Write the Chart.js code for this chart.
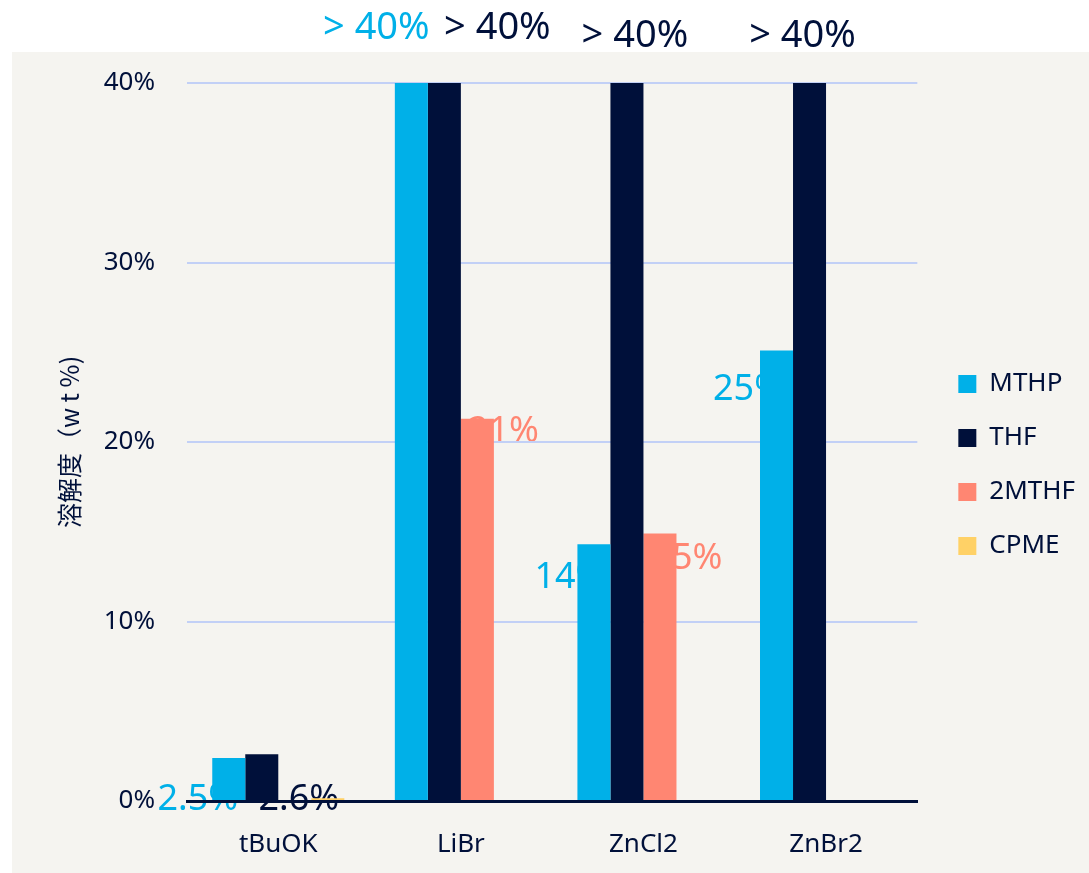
<!DOCTYPE html>
<html>
<head>
<meta charset="utf-8">
<script src="https://cdn.jsdelivr.net/npm/chart.js@4/dist/chart.umd.min.js"></script>
<style>
  html, body { margin: 0; padding: 0; background: #ffffff; }
  #wrap { width: 1089px; height: 873px; position: relative; }
</style>
</head>
<body>
<div id="wrap"><canvas id="c" width="1089" height="873"></canvas></div>
<script>
// ---- data ----
const categories = ['tBuOK', 'LiBr', 'ZnCl2', 'ZnBr2'];
const seriesNames = ['MTHP', 'THF', '2MTHF', 'CPME'];
const mthpValues  = [2.4, 40, 14.3, 25.1];
const thfValues   = [2.6, 40, 40, 40];
const mthf2Values = [null, 21.3, 14.9, null];
const cpmeValues  = [0.15, null, null, null];
const mthpLabels  = ['2.5%', '> 40%', '14%', '25%'];
const thfLabels   = ['2.6%', '> 40%', '> 40%', '> 40%'];
const mthf2Labels = [null, '21%', '15%', null];
const cpmeLabels  = [null, null, null, null];
const yTicks = [0, 10, 20, 30, 40];
const yTitle = '溶解度（w t %)';

// ---- styles ----
const NAVY = '#00103a';
const COLORS = ['#00b0e8', NAVY, '#ff8672', '#ffd166'];
const FONT = "'Noto Sans', 'Noto Sans CJK JP', sans-serif";
// label offsets relative to each bar's top-centre (dx, dy)
const labelOffsets = [
  [[-31, 42], [-35, -55], [-24, 33], [-28, 39]],
  [[37, 45], [53, -55], [8, -47], [-7, -47]],
  [[0, 0], [26, 13], [27, 25], [0, 0]],
  [[0, 0], [0, 0], [0, 0], [0, 0]]
];

const allValues = [mthpValues, thfValues, mthf2Values, cpmeValues];
const allLabels = [mthpLabels, thfLabels, mthf2Labels, cpmeLabels];

const bgPlugin = {
  id: 'bgAndLabels',
  beforeDraw(chart) {
    const ctx = chart.ctx;
    ctx.save();
    ctx.fillStyle = '#ffffff';
    ctx.fillRect(0, 0, chart.width, chart.height);
    ctx.fillStyle = '#f5f4f0';
    ctx.fillRect(12, 52, chart.width - 12, chart.height - 52);
    // value labels (drawn beneath bars and axes)
    ctx.textAlign = 'center';
    ctx.textBaseline = 'middle';
    chart.data.datasets.forEach((ds, di) => {
      const meta = chart.getDatasetMeta(di);
      meta.data.forEach((bar, i) => {
        const txt = allLabels[di][i];
        if (!txt) return;
        const off = labelOffsets[di][i];
        const big = txt.startsWith('>');
        ctx.font = (big ? '38px ' : '36px ') + FONT;
        ctx.fillStyle = COLORS[di];
        ctx.fillText(txt, bar.x + off[0], bar.y + off[1]);
      });
    });
    ctx.restore();
  },
  afterLayout(chart) {
    const l = chart.legend;
    if (l) { l.left += 13; l.right += 13; l.top -= 13; l.bottom -= 13; }
  }
};

new Chart(document.getElementById('c'), {
  type: 'bar',
  data: {
    labels: categories,
    datasets: seriesNames.map((name, i) => ({
      label: name,
      data: allValues[i],
      backgroundColor: COLORS[i],
      borderWidth: 0,
      categoryPercentage: 0.7233,
      barPercentage: 1.0
    }))
  },
  options: {
    responsive: false,
    animation: false,
    devicePixelRatio: 1,
    layout: { padding: { top: 83, bottom: 0, left: 0, right: 17 } },
    plugins: {
      legend: {
        position: 'right',
        labels: {
          boxWidth: 18,
          boxHeight: 18,
          padding: 28,
          color: NAVY,
          font: { family: FONT, size: 26 }
        }
      },
      tooltip: { enabled: false }
    },
    scales: {
      x: {
        grid: { display: false, drawTicks: false },
        border: { display: true, color: NAVY, width: 3 },
        ticks: { color: NAVY, padding: 28, font: { family: FONT, size: 26 } },
        afterFit(scale) { scale.height = 72; }
      },
      y: {
        min: 0,
        max: 40,
        afterBuildTicks(scale) { scale.ticks = yTicks.map(v => ({ value: v })); },
        grid: {
          drawTicks: false,
          lineWidth: 2,
          color: (c) => (c.tick && c.tick.value === 0) ? 'rgba(0,0,0,0)' : '#c2d0f6'
        },
        border: { display: false },
        ticks: {
          color: NAVY,
          padding: 32,
          font: { family: FONT, size: 26 },
          callback: (v) => v + '%'
        },
        title: {
          display: true,
          text: yTitle,
          color: NAVY,
          font: { family: "'Noto Sans CJK JP', 'Noto Sans', sans-serif", size: 25 },
          padding: { top: 54, bottom: 0 }
        },
        afterFit(scale) { scale.width = 187; }
      }
    }
  },
  plugins: [bgPlugin]
});
</script>
</body>
</html>
